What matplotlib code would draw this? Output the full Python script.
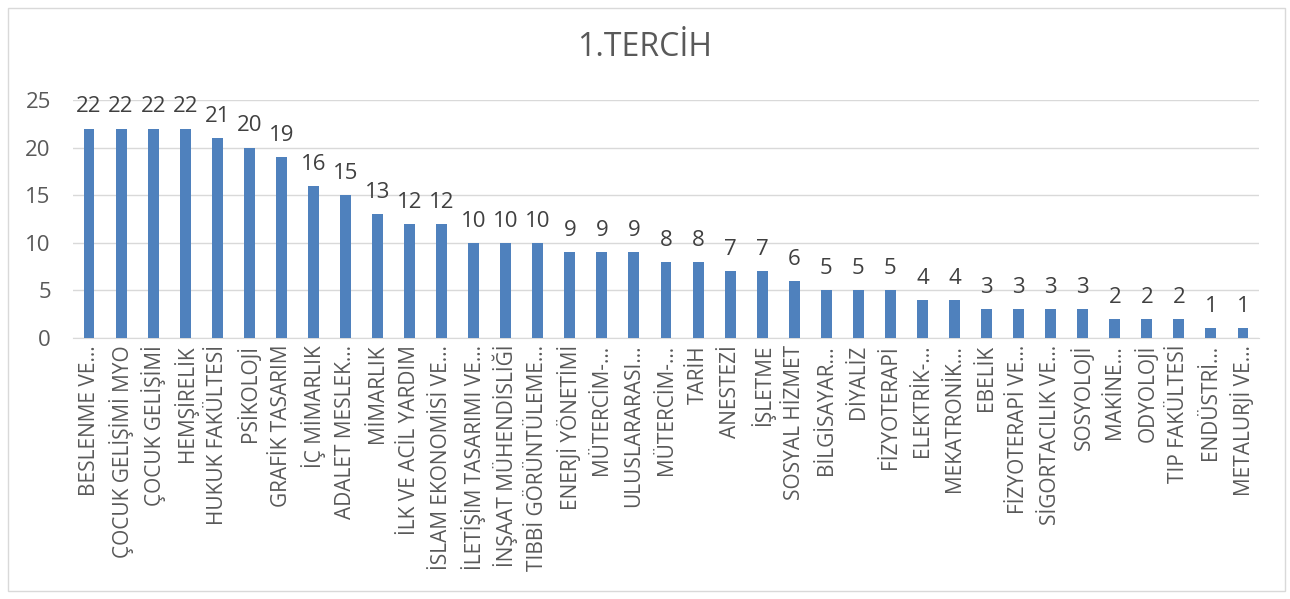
import matplotlib
matplotlib.use('Agg')
import matplotlib.pyplot as plt
from matplotlib.patches import Rectangle
import numpy as np

plt.rcParams['font.family'] = ['Open Sans', 'DejaVu Sans']

# data
bolumler = [
    'BESLENME VE...', 'ÇOCUK GELİŞİMİ MYO', 'ÇOCUK GELİŞİMİ', 'HEMŞİRELİK',
    'HUKUK FAKÜLTESİ', 'PSİKOLOJİ', 'GRAFİK TASARIM', 'İÇ MİMARLIK',
    'ADALET MESLEK...', 'MİMARLIK', 'İLK VE ACİL YARDIM', 'İSLAM EKONOMİSİ VE...',
    'İLETİŞİM TASARIMI VE...', 'İNŞAAT MÜHENDİSLİĞİ', 'TIBBİ GÖRÜNTÜLEME...',
    'ENERJİ YÖNETİMİ', 'MÜTERCİM-...', 'ULUSLARARASI...', 'MÜTERCİM-...',
    'TARİH', 'ANESTEZİ', 'İŞLETME', 'SOSYAL HİZMET', 'BİLGİSAYAR...',
    'DİYALİZ', 'FİZYOTERAPİ', 'ELEKTRİK-...', 'MEKATRONİK...', 'EBELİK',
    'FİZYOTERAPİ VE...', 'SİGORTACILIK VE...', 'SOSYOLOJİ', 'MAKİNE...',
    'ODYOLOJİ', 'TIP FAKÜLTESİ', 'ENDÜSTRİ...', 'METALURJİ VE...',
]
tercih_sayisi = [22, 22, 22, 22, 21, 20, 19, 16, 15, 13, 12, 12, 10, 10, 10,
                 9, 9, 9, 8, 8, 7, 7, 6, 5, 5, 5, 4, 4, 3, 3, 3, 3, 2, 2, 2, 1, 1]
y_ticks = [0, 5, 10, 15, 20, 25]

W, H = 1290, 599
fig = plt.figure(figsize=(W / 100, H / 100), dpi=100)
fig.patch.set_facecolor('white')

# chart border
fig.patches.append(Rectangle((8 / W, 8 / H), 1277 / W, 583 / H, transform=fig.transFigure,
                             fill=False, edgecolor='#d9d9d9', linewidth=1))

left, right = 73 / W, 1259 / W
bottom, top = 1 - 338 / H, 1 - 100 / H
ax = fig.add_axes([left, bottom, right - left, top - bottom])

x = np.arange(len(bolumler))
ax.bar(x, tercih_sayisi, width=0.34, color='#4f81bd', zorder=3)

for xi, v in zip(x, tercih_sayisi):
    ax.annotate(str(v), (xi, v), xytext=(0, 8), textcoords='offset points',
                ha='center', va='bottom', fontsize=16, color='#404040')

ax.set_xlim(-0.5, len(bolumler) - 0.5)
ax.set_ylim(0, 25)
ax.set_yticks(y_ticks)
ax.set_yticklabels([str(t) for t in y_ticks], fontsize=16, color='#595959')
ax.set_xticks(x)
ax.set_xticklabels(bolumler, rotation=90, fontsize=15, color='#595959')
ax.tick_params(axis='both', length=0)
ax.tick_params(axis='x', pad=5)
ax.tick_params(axis='y', pad=16)

ax.grid(axis='y', color='#d9d9d9', linewidth=1, zorder=0)
for s in ['top', 'right', 'left']:
    ax.spines[s].set_visible(False)
ax.spines['bottom'].set_color('#d9d9d9')

fig.text(0.5, 1 - 47 / H, '1.TERCİH', ha='center', va='center', fontsize=23, color='#595959')

plt.savefig('out.png', dpi=100)
